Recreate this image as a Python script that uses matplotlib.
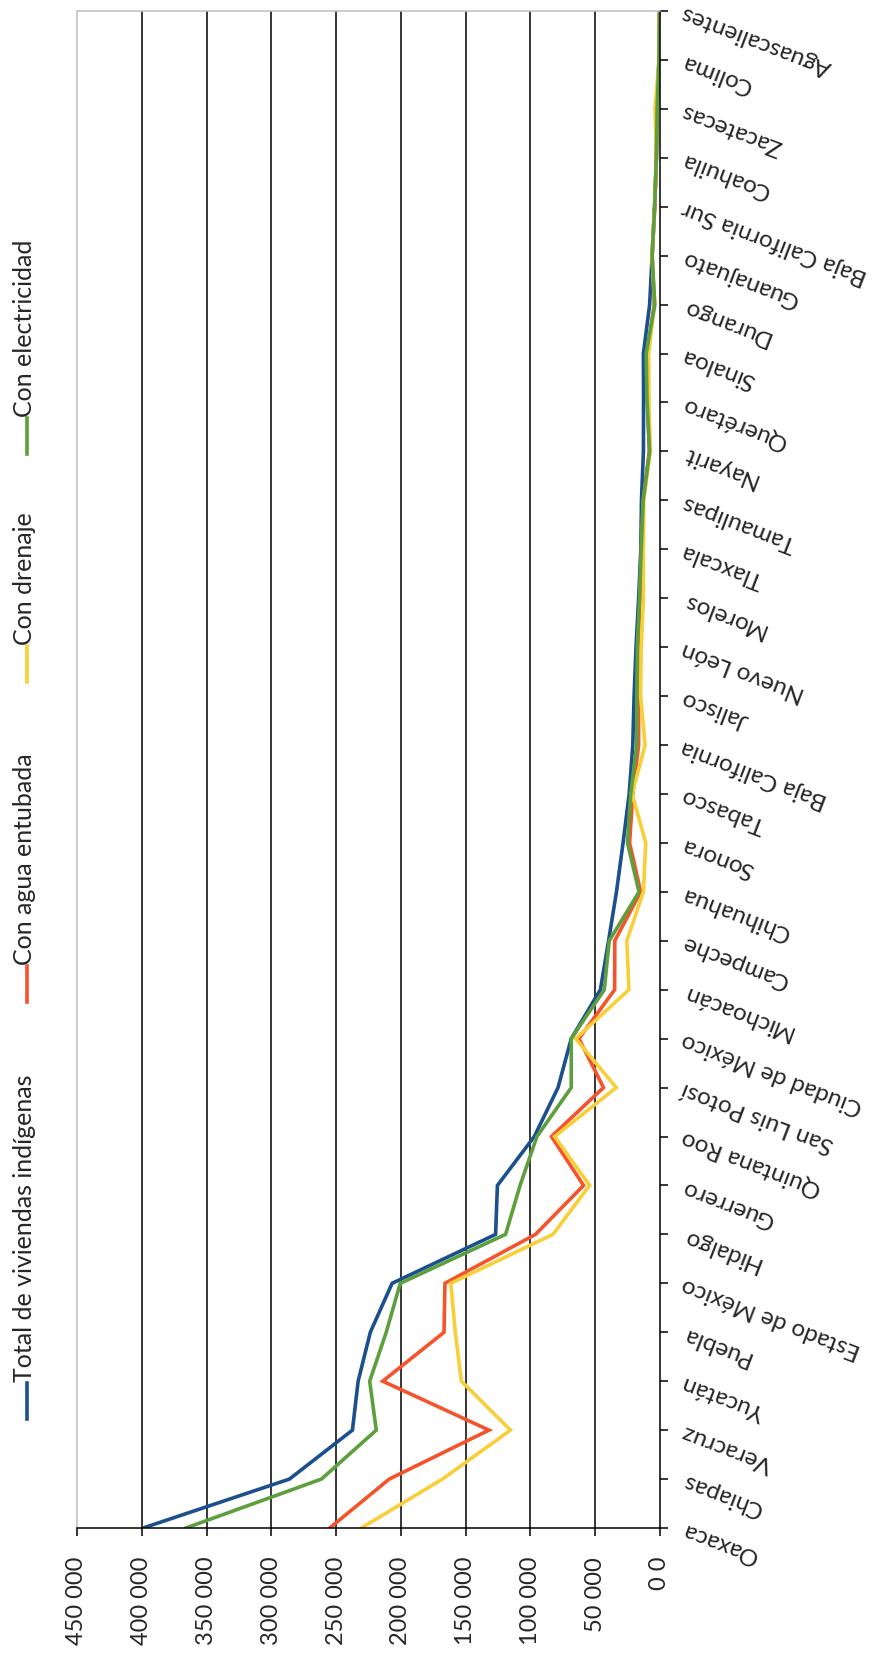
import numpy as np
import matplotlib
matplotlib.use('Agg')
import matplotlib.pyplot as plt
from matplotlib.lines import Line2D

plt.rcParams['font.family'] = ['Lato', 'DejaVu Sans']

estados = ['Oaxaca', 'Chiapas', 'Veracruz', 'Yucatán', 'Puebla', 'Estado de México',
           'Hidalgo', 'Guerrero', 'Quintana Roo', 'San Luis Potosí', 'Ciudad de México',
           'Michoacán', 'Campeche', 'Chihuahua', 'Sonora', 'Tabasco', 'Baja California',
           'Jalisco', 'Nuevo León', 'Morelos', 'Tlaxcala', 'Tamaulipas', 'Nayarit',
           'Querétaro', 'Sinaloa', 'Durango', 'Guanajuato', 'Baja California Sur',
           'Coahuila', 'Zacatecas', 'Colima', 'Aguascalientes']

total = [399000, 286000, 237400, 233000, 223600, 206800, 126900, 125500, 97000, 78700,
         68500, 46000, 39700, 33600, 28500, 23800, 21000, 20000, 18500, 16500, 14800,
         14300, 12800, 12700, 12800, 8000, 6100, 4200, 2800, 2200, 800, 300]
agua = [254900, 209000, 132000, 214000, 166700, 166000, 96100, 59000, 83800, 43600,
        62600, 35000, 34900, 14900, 23500, 21000, 16500, 16500, 17000, 15500, 14300,
        13000, 8300, 9600, 10000, 4500, 6000, 4100, 2800, 2200, 800, 300]
drenaje = [230500, 167900, 115400, 153300, 158000, 161500, 82600, 54400, 81300, 33800,
           65100, 24000, 25600, 12800, 11000, 21500, 11500, 15000, 14500, 12800, 12800,
           12500, 7500, 8500, 8800, 4200, 6200, 4100, 2800, 3800, 800, 300]
electricidad = [365900, 261300, 219000, 224100, 211300, 200500, 119200, 108000, 95000, 68500,
                68500, 43000, 39200, 16200, 25100, 22600, 18000, 17900, 17500, 15800, 14500,
                13000, 8000, 10000, 10700, 4000, 6100, 4100, 2800, 2200, 800, 300]

series_names = ['Total de viviendas indígenas', 'Con agua entubada', 'Con drenaje', 'Con electricidad']
colores = ['#1c4f8e', '#f4532c', '#f8cf38', '#5c9f3c']

val_ticks = [0, 50000, 100000, 150000, 200000, 250000, 300000, 350000, 400000, 450000]
val_labels = ['0 0', '50 000', '100 000', '150 000', '200 000', '250 000',
              '300 000', '350 000', '400 000', '450 000']

W, H = 886, 1656
fig = plt.figure(figsize=(W / 100, H / 100), dpi=100)
ax = fig.add_axes([77 / W, 1 - 1529 / H, (660 - 77) / W, (1529 - 12) / H])

idx = np.arange(len(estados))
for vals, c in zip([total, agua, drenaje, electricidad], colores):
    ax.plot(vals, idx, color=c, lw=2.6, solid_joinstyle='miter')

ax.set_xlim(450000, 0)
ax.set_ylim(0, len(estados) - 1)

for t in val_ticks[1:-1]:
    ax.axvline(t, color='black', lw=1.1, zorder=0)

for s in ['left', 'top']:
    ax.spines[s].set_color('#bfbfbf')
    ax.spines[s].set_linewidth(1.1)
for s in ['right', 'bottom']:
    ax.spines[s].set_color('black')
    ax.spines[s].set_linewidth(1.1)

ax.set_xticks(val_ticks)
ax.set_xticklabels(val_labels, rotation=90, va='top', ha='center', fontsize=17, color='#262626')
ax.tick_params(axis='x', direction='out', length=6, width=1.1, pad=14)

ax.yaxis.tick_right()
ax.set_yticks(idx)
ax.set_yticklabels(estados, rotation=159, rotation_mode='anchor', ha='right', va='center',
                   fontsize=17.5, color='#262626')
ax.tick_params(axis='y', direction='out', length=6, width=1.1, pad=10)

# leyenda vertical a la izquierda
inicios = [1420, 1003, 683, 455]
for nombre, c, y0 in zip(series_names, colores, inicios):
    fig.add_artist(Line2D([27 / W, 27 / W], [1 - y0 / H, 1 - (y0 - 36) / H],
                          color=c, lw=2.6, transform=fig.transFigure))
    fig.text(25 / W, 1 - (y0 - 38) / H, nombre, rotation=90, rotation_mode='anchor',
             ha='left', va='center', fontsize=18, color='#262626')

fig.savefig('out.png', dpi=100)
